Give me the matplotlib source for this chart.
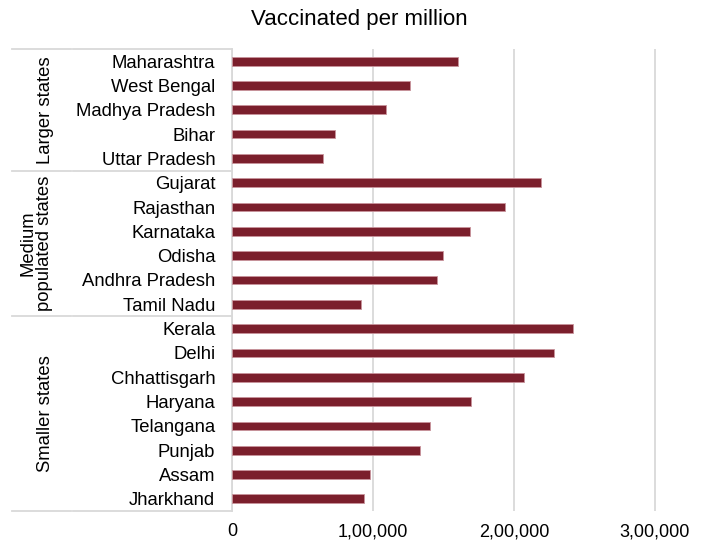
import matplotlib
matplotlib.use('Agg')
from matplotlib import pyplot as plt

plt.rcParams['font.family'] = ['Liberation Sans', 'DejaVu Sans']

# datos
estados = ['Maharashtra', 'West Bengal', 'Madhya Pradesh', 'Bihar', 'Uttar Pradesh',
           'Gujarat', 'Rajasthan', 'Karnataka', 'Odisha', 'Andhra Pradesh', 'Tamil Nadu',
           'Kerala', 'Delhi', 'Chhattisgarh', 'Haryana', 'Telangana', 'Punjab', 'Assam',
           'Jharkhand']
vacunados = [160500, 126200, 109400, 72800, 64800,
             219400, 193900, 169000, 149900, 145200, 91300,
             241600, 228600, 206900, 169500, 140600, 133300, 97700, 93800]
grupos = ['Larger states', 'Medium\npopulated states', 'Smaller states']
tamGrupos = [5, 6, 8]
ticksX = [0, 100000, 200000, 300000]
etiquetasX = ['0', '1,00,000', '2,00,000', '3,00,000']

W, H = 706, 545
fig = plt.figure(figsize=(W / 100, H / 100), dpi=100)
izq, der, arriba, abajo = 232, 657, 49, 511
ax = fig.add_axes([izq / W, 1 - abajo / H, (der - izq) / W, (abajo - arriba) / H])

pos = list(range(len(estados)))
ax.barh(pos, vacunados, height=0.36, color='#7b1f2c', edgecolor='#c9939b', linewidth=0.6, zorder=3)

ax.set_ylim(len(estados) - 0.5, -0.5)
ax.set_xlim(0, 300000 * (der - izq) / (655 - izq))
ax.set_yticks(pos)
ax.set_yticklabels(estados, fontsize=13.3)
ax.set_xticks(ticksX)
ax.set_xticklabels(etiquetasX, fontsize=13)
ax.tick_params(axis='both', length=0)
ax.tick_params(axis='y', pad=12)
ax.tick_params(axis='x', pad=9)

for s in ['top', 'right', 'bottom']:
    ax.spines[s].set_visible(False)
ax.spines['left'].set_color('#d9d9d9')
ax.spines['left'].set_linewidth(1.3)
ax.grid(axis='x', color='#d9d9d9', linewidth=1.3, zorder=0)

###lineas separadoras y nombres de grupo a la izquierda
tr = ax.get_yaxis_transform()
ancho = der - izq
x0 = (12 - izq) / ancho
xc = (71 - izq) / ancho
xc2 = (73 - izq) / ancho
limites = [-0.5]
for t in tamGrupos:
    limites.append(limites[-1] + t)
for y in limites:
    ax.plot([x0, xc], [y, y], transform=tr, color='#d9d9d9', lw=1.3, clip_on=False)
    ax.plot([xc2, 0], [y, y], transform=tr, color='#d9d9d9', lw=1.3, clip_on=False)

xGrupos = [45.5, 36, 45.5]
for i, g in enumerate(grupos):
    centro = (limites[i] + limites[i + 1]) / 2
    ax.text((xGrupos[i] - izq) / ancho, centro, g, transform=tr, rotation=90, ha='center',
            va='center', fontsize=13.3, linespacing=0.95)

fig.text(359.5 / W, 1 - 20 / H, 'Vaccinated per million', ha='center', va='center', fontsize=16)

fig.savefig('out.png', dpi=100)
